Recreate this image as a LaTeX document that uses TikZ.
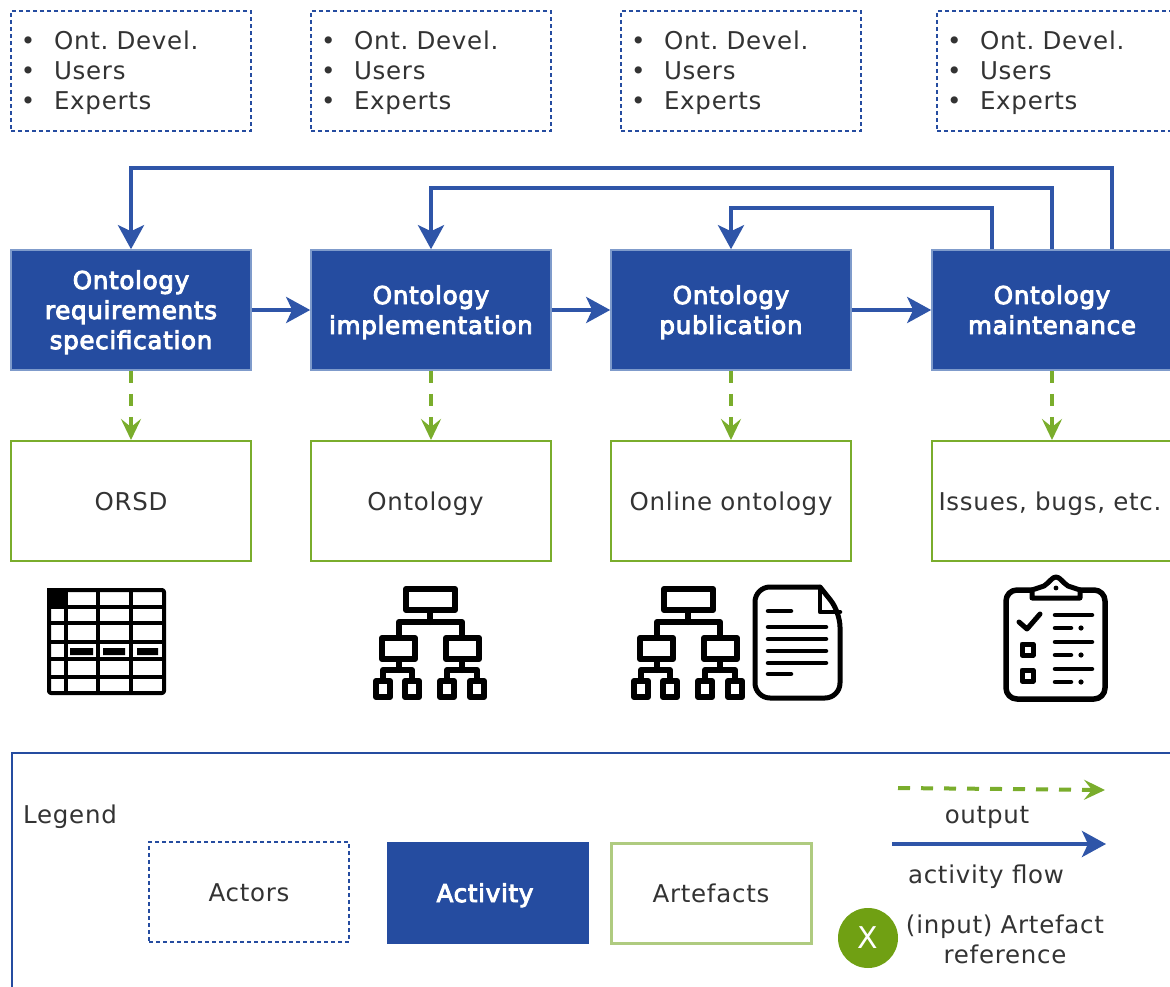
\documentclass[tikz,border=0pt]{standalone}
\usepackage{fontspec}
\setmainfont[LetterSpace=3]{DejaVu Sans}
\newfontfamily\boldish[FakeBold=4,LetterSpace=3]{DejaVu Sans}
\usetikzlibrary{arrows.meta,positioning}
\definecolor{actblue}{HTML}{254CA0}
\definecolor{flowblue}{HTML}{2F55A8}
\definecolor{edgeblue}{HTML}{7F9BCB}
\definecolor{artgreen}{HTML}{7AAD2C}
\definecolor{lightgreen}{HTML}{AFCB80}
\definecolor{xgreen}{HTML}{70A013}
\definecolor{txt}{HTML}{333333}
\newcommand{\bodyfont}{\fontsize{24.5pt}{30pt}\selectfont\frenchspacing}
\newcommand{\topstrut}{\rule{0pt}{24pt}}
\newcommand{\botstrut}{\rule[-6pt]{0pt}{6pt}}
\tikzset{
 struts/.style={execute at begin node=\topstrut,execute at end node=\botstrut},
 actorbox/.style={struts,draw=actblue,dash pattern=on 4pt off 3pt,line width=1.5pt,fill=white,minimum width=240pt,minimum height=120pt,text width=208pt,inner xsep=16pt,inner ysep=0pt,align=left,font=\bodyfont,text=txt},
 activitybox/.style={struts,draw=edgeblue,line width=1.6pt,fill=actblue,minimum width=240pt,minimum height=120pt,text width=240pt,inner sep=0pt,align=center,text=white,font=\boldish\bodyfont},
 artefactbox/.style={struts,draw=artgreen,line width=2pt,fill=white,minimum width=240pt,minimum height=120pt,text width=240pt,inner sep=0pt,align=center,text=txt,font=\bodyfont},
 lab/.style={struts,text=txt,inner sep=0pt,align=center,font=\bodyfont},
 flow/.style={draw=flowblue,line width=4pt,-{Stealth[length=24pt,width=26pt,inset=6pt]}},
 outflow/.style={draw=artgreen,line width=4pt,dash pattern=on 12pt off 11pt,-{Stealth[length=21pt,width=20pt,inset=8pt]}},
 icon/.style={line width=6pt,draw=black,line cap=round,line join=round,fill=white},
 iconthin/.style={line width=4.5pt,draw=black,line cap=round,line join=round},
 tree/.pic={
  \draw[icon] (406,589) rectangle (455,610);
  \draw[icon,fill=none] (430,610)--(430,622) (399,638)--(399,622)--(462,622)--(462,638);
  \draw[icon] (382,638) rectangle (415,659);
  \draw[icon] (446,638) rectangle (479,659);
  \draw[icon,fill=none] (399,659)--(399,670) (383,681)--(383,670)--(412,670)--(412,681);
  \draw[icon,fill=none] (462,659)--(462,670) (447,681)--(447,670)--(477,670)--(477,681);
  \draw[icon] (376,681) rectangle (390,697);
  \draw[icon] (405,681) rectangle (419,697);
  \draw[icon] (440,681) rectangle (454,697);
  \draw[icon] (470,681) rectangle (484,697);
 }
}
\newcommand{\blt}{\makebox[27pt][l]{\kern-6pt•}}
\newcommand{\actorlist}{\blt Ont. Devel.\\\blt Users\\\blt Experts}
\begin{document}
\begin{tikzpicture}[x=1pt,y=-1pt]
\useasboundingbox (0,0) rectangle (1170,987);
\clip (0,0) rectangle (1170,987);
\fill[white] (0,0) rectangle (1170,987);
% actors
\node[actorbox] (actA) at (131,71) {\actorlist};
\node[actorbox] (actB) at (431,71) {\actorlist};
\node[actorbox] (actC) at (741,71) {\actorlist};
\node[actorbox] (actD) at (1057,71) {\actorlist};
% activities
\node[activitybox] (req) at (131,310) {Ontology\\requirements\\specification};
\node[activitybox] (imp) at (431,310) {Ontology\\implementation};
\node[activitybox] (pub) at (731,310) {Ontology\\publication};
\node[activitybox] (mnt) at (1052,310) {Ontology\\maintenance};
% artefacts
\node[artefactbox] (orsd) at (131,501) {ORSD};
\node[artefactbox] (ont) at (431,501) {\kern-11pt Ontology};
\node[artefactbox] (onl) at (731,501) {Online ontology};
\node[artefactbox] (iss) at (1052,501) {\kern-4pt Issues, bugs, etc.};
% flows
\draw[flow] (req.east) -- (imp.west);
\draw[flow] (imp.east) -- (pub.west);
\draw[flow] (pub.east) -- (mnt.west);
\coordinate (f1) at (1111.5,168);
\coordinate (f2) at (1051.5,188);
\coordinate (f3) at (992,208);
\draw[flow] (mnt.north -| f1) -- (f1) -| (req.north);
\draw[flow] (mnt.north -| f2) -- (f2) -| (imp.north);
\draw[flow] (mnt.north -| f3) -- (f3) -| (pub.north);
% outputs
\draw[outflow] (req.south) -- (orsd.north);
\draw[outflow] (imp.south) -- (ont.north);
\draw[outflow] (pub.south) -- (onl.north);
\draw[outflow] (mnt.south) -- (iss.north);
% table icon
\begin{scope}[line width=4pt,draw=black,line join=round]
\fill[black] (47,588) rectangle (66,607);
\draw[rounded corners=2pt] (49,590) rectangle (164,693);
\draw (66,590)--(66,693) (98,590)--(98,693) (131,590)--(131,693);
\draw (49,607)--(164,607) (49,623)--(164,623) (49,642)--(164,642) (49,659)--(164,659) (49,677)--(164,677);
\fill[black] (70,648) rectangle (93,655) (103,648) rectangle (125,655) (137,648) rectangle (158,655);
\end{scope}
% tree icons
\pic at (0,0) {tree};
\pic at (258,0) {tree};
% document icon
\draw[icon,line width=5pt] (820,587) [rounded corners=15pt] -- (755,587) -- (755,698) -- (840,698) -- (840,612) [sharp corners] -- (820,587) -- cycle;
\draw[icon,line width=4.5pt,fill=none] (820,587)--(820,612)--(840,612);
\draw[iconthin] (768,611)--(791,611) (768,627)--(826,627) (768,639)--(826,639) (768,651)--(826,651) (768,663)--(826,663) (768,674)--(791,674);
% clipboard icon
\draw[icon,line width=5.5pt,rounded corners=11pt] (1006,590) rectangle (1105,699);
\draw[icon,line width=5pt] (1032,598)--(1080,598)--(1080,590)--(1068,586) .. controls (1062,582) and (1060,577) .. (1056,577) .. controls (1052,577) and (1050,582) .. (1044,586) -- (1032,590)--cycle;
\fill[black] (1056,588) circle (2.4pt);
\draw[iconthin,line width=5pt] (1019,622)--(1027,629)--(1040,614);
\draw[iconthin] (1055,615)--(1092,615) (1055,628)--(1071,628) (1055,642)--(1092,642) (1055,655)--(1071,655) (1055,669)--(1092,669) (1055,682)--(1071,682);
\fill[black] (1081,628) circle (2.6pt) (1081,655) circle (2.6pt) (1081,682) circle (2.6pt);
\draw[icon,line width=5pt] (1022,644) rectangle (1033,655);
\draw[icon,line width=5pt] (1022,670) rectangle (1033,681);
% legend
\node[draw=actblue,line width=1.6pt,minimum width=1200pt,minimum height=300pt,inner sep=0pt,anchor=north west] (legendbox) at (11,752) {};
\node[lab,anchor=west] (leglab) at (23,814) {Legend};
\node[actorbox,minimum width=200pt,minimum height=100pt,text width=200pt,inner xsep=0pt,align=center] (lgA) at (249,892) {Actors};
\node[activitybox,draw=actblue,minimum width=200pt,minimum height=100pt,text width=200pt] (lgB) at (488,893) {\kern-6pt Activity};
\node[artefactbox,draw=lightgreen,line width=3pt,minimum width=200pt,minimum height=100pt,text width=200pt] (lgC) at (711,893) {Artefacts};
\coordinate (oa) at (898,788);
\coordinate (ob) at (1105,790);
\draw[outflow] (oa) -- (ob);
\node[lab] (outl) at (987,814) {output};
\coordinate (fa) at (892,844);
\coordinate (fb) at (1106,844);
\draw[flow] (fa) -- (fb);
\node[lab] (flowl) at (986,874) {activity flow};
\node[circle,fill=xgreen,minimum size=60pt,inner sep=0pt,text=white,font=\fontsize{30pt}{30pt}\selectfont] (xc) at (868,938) {X};
\node[lab,text width=240pt] (refl) at (1005,939.5) {(input) Artefact\\reference};
\end{tikzpicture}
\end{document}
